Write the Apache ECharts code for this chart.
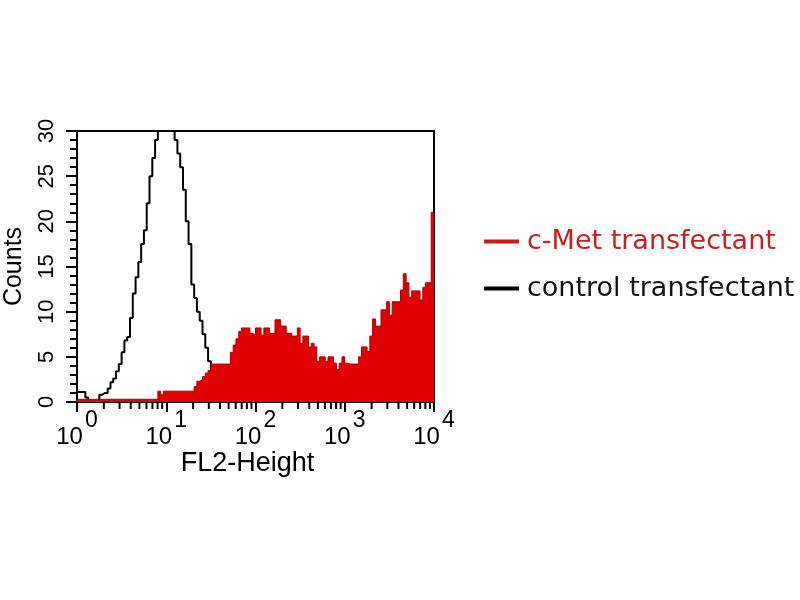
<!DOCTYPE html>
<html>
<head>
<meta charset="utf-8">
<script src="https://cdn.jsdelivr.net/npm/echarts@6/dist/echarts.min.js"></script>
<style>
  html, body { margin: 0; padding: 0; background: #fff; }
  #chart { width: 800px; height: 600px; }
</style>
</head>
<body>
<div id="chart"></div>
<script>
// histogram bins on the FL2 log scale (32 bins per decade, 10^0 .. 10^4)
const binsPerDecade = 32;

// c-Met transfectant counts, bin 0 .. 127
const cMetCounts = [
  0.3, 0.3, 0.3, 0.3, 0.3, 0.3, 0.3, 0.3, 0.3, 0.3,
  0.3, 0.3, 0.3, 0.3, 0.3, 0.3, 0.3, 0.3, 0.3, 0.3,
  0.3, 0.3, 0.3, 0.3, 0.3, 0.3, 0.3, 0.3, 0.3, 1.2,
  0.8, 1.2, 1.2, 1.2, 1.2, 1.2, 1.2, 1.2, 1.2, 1.2,
  1.2, 1.2, 1.7, 2.3, 2.5, 2.8, 3.2, 3.5, 4.2, 4.2,
  4.2, 4.2, 4.2, 4.2, 4.2, 5.5, 6.3, 7.0, 7.8, 8.2,
  8.2, 8.2, 7.6, 7.4, 8.2, 8.2, 7.4, 8.2, 8.2, 7.6,
  7.6, 9.1, 9.1, 8.4, 8.4, 7.6, 7.6, 7.3, 7.3, 8.2,
  6.5, 7.3, 7.3, 6.1, 6.5, 6.1, 4.5, 5.0, 5.0, 4.5,
  5.0, 5.0, 4.3, 3.6, 4.3, 5.0, 4.3, 4.2, 4.2, 4.2,
  4.2, 5.0, 6.1, 6.1, 5.6, 7.3, 9.2, 8.4, 8.4, 10.2,
  10.2, 11.1, 9.6, 11.1, 11.1, 11.1, 12.4, 14.2, 13.2, 11.6,
  12.3, 12.3, 12.3, 11.3, 12.7, 13.2, 13.2, 21
];

// control transfectant counts, bin 0 .. 48 (empty after that)
const controlCounts = [
  1.1, 1.1, 1.1, 0.5, 0, 0, 0, 0, 0.8, 1.0,
  1.0, 1.5, 2.2, 2.6, 3.4, 4.2, 5.5, 6.8, 7.2, 9.3,
  12, 13.8, 15.5, 17.5, 19, 22, 25, 27, 29, 30,
  30, 30, 30, 30, 30, 29, 27.5, 26, 23.5, 20,
  17.5, 13, 11.5, 10, 9, 7.5, 6, 4.5, 0
];

const seriesNames = ['c-Met transfectant', 'control transfectant'];
const yTicks = [0, 5, 10, 15, 20, 25, 30];
const decadeStarts = [1, 10, 100, 1000];
const minorMultipliers = [2, 3, 4, 5, 6, 7, 8, 9];

// bin i starts at 10^(i / binsPerDecade); close the last bin at its right edge
function toSteps(counts) {
  const pts = counts.map((c, i) => [Math.pow(10, i / binsPerDecade), c]);
  const n = counts.length;
  pts.push([Math.pow(10, n / binsPerDecade), counts[n - 1]]);
  return pts;
}

const minorTickVals = [];
decadeStarts.forEach(d => {
  minorMultipliers.forEach(m => minorTickVals.push([d * m, 0]));
});

const axisFont = 'Liberation Sans, Arial, sans-serif';

const chart = echarts.init(document.getElementById('chart'));

chart.setOption({
  backgroundColor: '#ffffff',
  animation: false,
  grid: {
    left: 77,
    right: 366,
    top: 131,
    bottom: 198,
    show: true,
    borderColor: '#000',
    borderWidth: 2,
    backgroundColor: 'transparent'
  },
  legend: {
    orient: 'vertical',
    left: 484,
    top: 228,
    padding: 0,
    itemGap: 20,
    icon: 'rect',
    itemWidth: 35,
    itemHeight: 4,
    textStyle: { fontFamily: 'DejaVu Sans, sans-serif', fontSize: 27, padding: [0, 0, 0, 3] },
    data: [
      { name: seriesNames[0], textStyle: { color: '#c82020' } },
      { name: seriesNames[1], textStyle: { color: '#111111' } }
    ]
  },
  xAxis: {
    type: 'log',
    logBase: 10,
    min: 1,
    max: 10000,
    splitNumber: 4,
    name: 'FL2-Height',
    nameLocation: 'middle',
    nameGap: 48,
    nameTextStyle: { fontFamily: axisFont, fontSize: 27, color: '#000', padding: [0, 16, 0, 0] },
    axisLine: { onZero: false, lineStyle: { color: '#000', width: 2 } },
    axisTick: { length: 10, lineStyle: { color: '#000', width: 2 } },
    splitLine: { show: false },
    axisLabel: {
      margin: 7,
      showMinLabel: true,
      showMaxLabel: true,
      color: '#000',
      formatter: v => '{b|10}{e|' + Math.round(Math.log10(v)) + '}',
      rich: {
        b: { fontFamily: axisFont, fontSize: 24, color: '#000', lineHeight: 40, verticalAlign: 'bottom' },
        e: { fontFamily: axisFont, fontSize: 23, color: '#000', verticalAlign: 'top', padding: [0, 0, 0, 2] }
      }
    }
  },
  yAxis: {
    type: 'value',
    min: yTicks[0],
    max: yTicks[yTicks.length - 1],
    interval: yTicks[1] - yTicks[0],
    name: 'Counts',
    nameLocation: 'middle',
    nameRotate: 90,
    nameGap: 50,
    nameTextStyle: { fontFamily: axisFont, fontSize: 25, color: '#000' },
    axisLine: { show: true, lineStyle: { color: '#000', width: 2 } },
    axisTick: { show: true, length: 11, lineStyle: { color: '#000', width: 2 } },
    minorTick: { show: true, splitNumber: 5, length: 7, lineStyle: { color: '#000', width: 2 } },
    splitLine: { show: false },
    axisLabel: {
      rotate: 90,
      margin: 19,
      fontFamily: axisFont,
      fontSize: 22,
      color: '#000'
    }
  },
  series: [
    {
      name: seriesNames[1],
      type: 'line',
      step: 'end',
      showSymbol: false,
      data: toSteps(controlCounts),
      itemStyle: { color: '#000' },
      lineStyle: { color: '#000', width: 2 },
      z: 2
    },
    {
      name: seriesNames[0],
      type: 'line',
      step: 'end',
      showSymbol: false,
      data: toSteps(cMetCounts),
      itemStyle: { color: '#d01818' },
      lineStyle: { color: '#a80000', width: 1 },
      areaStyle: { color: '#e00000', opacity: 1 },
      z: 3
    },
    {
      // minor log ticks under the x axis
      type: 'custom',
      silent: true,
      clip: false,
      data: minorTickVals,
      renderItem: function (params, api) {
        const p = api.coord([api.value(0), api.value(1)]);
        return {
          type: 'line',
          shape: { x1: p[0], y1: p[1], x2: p[0], y2: p[1] + 7 },
          style: { stroke: '#000', lineWidth: 2 }
        };
      },
      z: 4
    }
  ]
});
</script>
</body>
</html>
